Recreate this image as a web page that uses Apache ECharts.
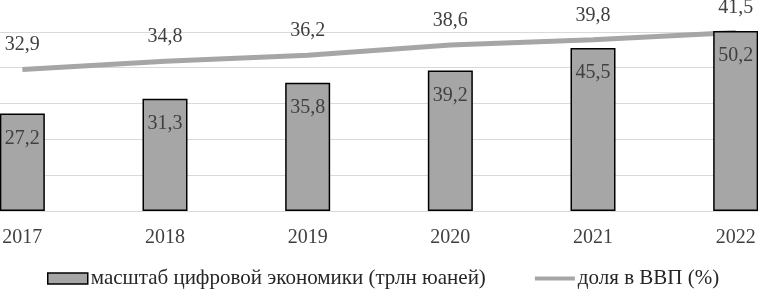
<!DOCTYPE html>
<html><head><meta charset="utf-8">
<script src="https://cdn.jsdelivr.net/npm/echarts@6/dist/echarts.min.js"></script>
<style>html,body{margin:0;padding:0;background:#fff;overflow:hidden;width:758px;height:291px;position:relative}
#c{position:absolute;left:-49px;top:-4px;width:856px;height:295px}</style>
</head><body><div id="c"></div>
<script>
const years = ['2017','2018','2019','2020','2021','2022'];
const scaleValues = [27.2, 31.3, 35.8, 39.2, 45.5, 50.2];
const gdpShare = [32.9, 34.8, 36.2, 38.6, 39.8, 41.5];
const barName = 'масштаб цифровой экономики (трлн юаней)';
const lineName = 'доля в ВВП (%)';
const fmt = p => String(p.value).replace('.', ',');
const FONT = 'Liberation Serif';
const chart = echarts.init(document.getElementById('c'));
chart.setOption({
  animation: false,
  textStyle: {fontFamily: FONT},
  grid: {left: 0, right: 0, top: 0, bottom: 80, containLabel: false},
  legend: {
    bottom: 2, left: 96, padding: 0, itemGap: 49, itemWidth: 40, itemHeight: 11,
    textStyle: {fontFamily: FONT, fontSize: 21, color: '#262626', padding: [0,0,0,-2]},
    data: [
      {name: barName, icon: 'rect', itemStyle: {color: '#a6a6a6', borderColor: '#000', borderWidth: 1.5}},
      {name: lineName, icon: 'path://M0,0 L40,0 L40,4 L0,4 Z', itemStyle: {color: '#a6a6a6', borderWidth: 0}}
    ]
  },
  xAxis: {
    type: 'category', data: years,
    axisLine: {lineStyle: {color: '#d9d9d9'}}, axisTick: {show: false},
    axisLabel: {fontFamily: FONT, fontSize: 20, color: '#404040', margin: 17}
  },
  yAxis: [
    {type: 'value', min: 0, max: 60, interval: 10, axisLabel: {show: false},
     splitLine: {lineStyle: {color: '#d9d9d9', width: 1}}},
    {type: 'value', min: 0, max: 50, interval: 10, axisLabel: {show: false}, splitLine: {show: false}}
  ],
  series: [
    {name: barName, type: 'bar', data: scaleValues, barWidth: 45, z: 3,
     itemStyle: {color: '#a6a6a6', borderColor: '#000', borderWidth: 1.5},
     label: {show: true, position: 'insideTop', distance: 15, formatter: fmt,
       fontFamily: FONT, fontSize: 20, color: '#404040'}},
    {name: lineName, type: 'line', yAxisIndex: 1, data: gdpShare, z: 2,
     symbol: 'circle', symbolSize: 1, showSymbol: true,
     itemStyle: {color: 'rgba(0,0,0,0)', borderWidth: 0},
     lineStyle: {color: '#a6a6a6', width: 5},
     label: {show: true, position: 'top', distance: 14, formatter: fmt,
       fontFamily: FONT, fontSize: 20, color: '#404040'}}
  ]
});
</script></body></html>
